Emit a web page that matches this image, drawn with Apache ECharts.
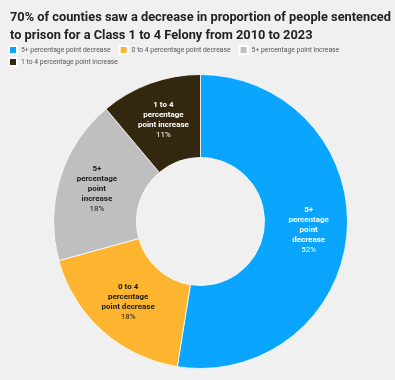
<!DOCTYPE html>
<html><head><meta charset="utf-8">
<script src="https://cdn.jsdelivr.net/npm/echarts@6/dist/echarts.min.js"></script>
<style>html,body{margin:0;padding:0;background:#f0f0f0}#c{width:395px;height:380px}</style>
</head><body><div id="c"></div>
<script>
const categories = ["5+ percentage point decrease","0 to 4 percentage point decrease","5+ percentage point increase","1 to 4 percentage point increase"];
const labelNames = ["5+\npercentage\npoint\ndecrease","0 to 4\npercentage\npoint decrease","5+\npercentage\npoint\nincrease","1 to 4\npercentage\npoint increase"];
const values = [52, 18, 18, 11];
const colors = ["#0aa5fe","#fdb42e","#bfbfbf","#33270f"];
const labelColors = ["#ffffff","#1a1a1a","#1a1a1a","#ffffff"];

const legendBase = {itemWidth:8,itemHeight:8,itemGap:8,icon:'rect',orient:'horizontal',
  textStyle:{fontFamily:'Roboto',fontSize:6.8,color:'#555',padding:[0,0,0,-1]}};

const chart = echarts.init(document.getElementById('c'));
chart.setOption({
  backgroundColor:'#f0f0f0',
  title:{text:'70% of counties saw a decrease in proportion of people sentenced\nto prison for a Class 1 to 4 Felony from 2010 to 2023',left:5,top:4,
    textStyle:{fontFamily:'Roboto',fontWeight:'bold',fontSize:12.8,color:'#222',lineHeight:18}},
  legend:[
    Object.assign({left:3,top:40,data:categories.slice(0,3)},legendBase),
    Object.assign({left:3,top:52,data:categories.slice(3)},legendBase)
  ],
  series:[{type:'pie',center:[200.5,221.5],radius:[64,147],startAngle:90,clockwise:true,
    itemStyle:{borderColor:'#ffffff',borderWidth:0.8},
    label:{position:'inside',fontFamily:'Roboto',fontSize:8,lineHeight:10,
      formatter:p=>'{b|'+labelNames[p.dataIndex].split('\n').join('}\n{b|')+'}\n{v|'+p.value+'%}',
      rich:{b:{fontWeight:'bold',fontSize:8,lineHeight:10},v:{fontSize:8,lineHeight:10}}},
    labelLine:{show:false},
    data:categories.map((c,i)=>({name:c,value:values[i],itemStyle:{color:colors[i]},
      label:{color:labelColors[i],rich:{b:{color:labelColors[i],fontWeight:'bold',fontSize:8,lineHeight:10},v:{color:labelColors[i],fontSize:8,lineHeight:10}}}}))
  }]
});
</script></body></html>
